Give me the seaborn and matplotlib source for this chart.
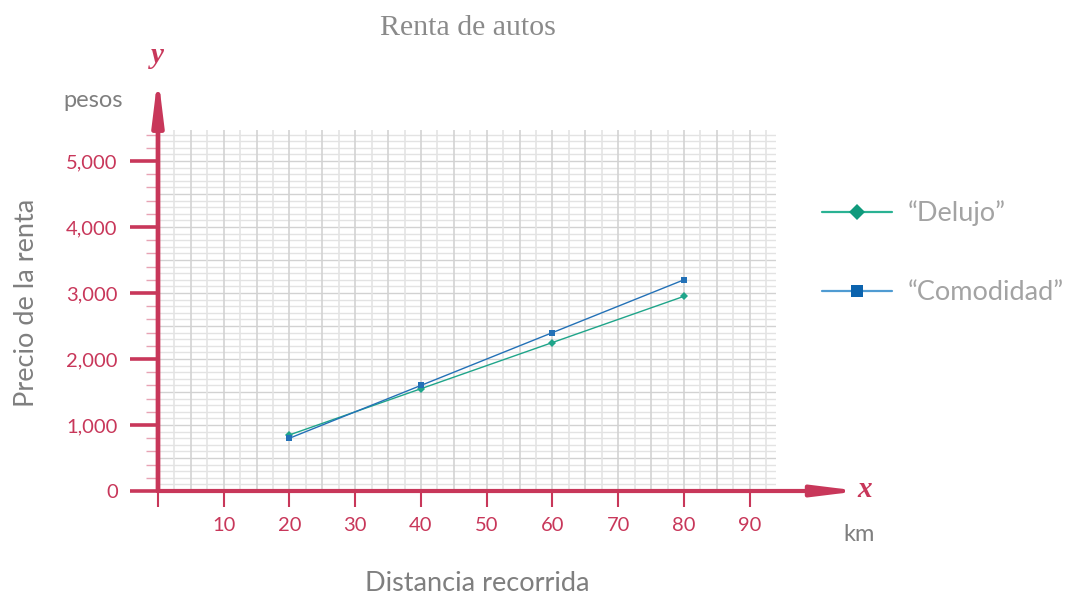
import numpy as np
import pandas as pd
import matplotlib
matplotlib.use("Agg")
import matplotlib.pyplot as plt
from matplotlib.ticker import MultipleLocator, FixedLocator, FixedFormatter
import seaborn as sns

# Rental price (pesos) versus distance travelled (km) for two car plans
km = [20, 40, 60, 80]
delujo = [850, 1550, 2250, 2950]
comodidad = [800, 1600, 2400, 3200]
series_names = ["\u201cDelujo\u201d", "\u201cComodidad\u201d"]

x_ticks = [0, 10, 20, 30, 40, 50, 60, 70, 80, 90]
x_tick_labels = ["", "10", "20", "30", "40", "50", "60", "70", "80", "90"]
y_ticks = [0, 1000, 2000, 3000, 4000, 5000]
y_tick_labels = ["0", "1,000", "2,000", "3,000", "4,000", "5,000"]

title = "Renta de autos"
x_title = "Distancia recorrida"
y_title = "Precio de la renta"
x_unit = "km"
y_unit = "pesos"

df = pd.DataFrame({
    "km": km * 2,
    "precio": delujo + comodidad,
    "plan": [series_names[0]] * len(km) + [series_names[1]] * len(km),
})

sns.set_theme(style="white")
plt.rcParams["font.family"] = ["Lato", "DejaVu Sans"]

CRIMSON = "#C8375A"
GREY = "#7F7F7F"
line_colors = {series_names[0]: "#1FA58A", series_names[1]: "#2371B7"}
marker_colors = {series_names[0]: "#0F9A7C", series_names[1]: "#0B63AE"}
legend_line_colors = {series_names[0]: "#2AB293", series_names[1]: "#4F9BD2"}

W, H = 1071, 595
fig = plt.figure(figsize=(W / 100, H / 100), dpi=100)
fig.patch.set_facecolor("white")
ax = fig.add_axes([158 / W, 1 - 491 / H, 618 / W, 361 / H])
ax.set_facecolor("white")

x_max, y_max = 94.0, 5470.0
ax.set_xlim(0, x_max)
ax.set_ylim(0, y_max)

# Graph-paper grid
for gx in np.arange(2.5, x_max, 2.5):
    strong = abs(gx / 5 - round(gx / 5)) < 1e-9
    ax.vlines(gx, 0, y_max, color="#D3D3D3" if strong else "#E4E4E4",
              lw=1.2, zorder=0.5)
for gy in np.arange(100, y_max, 100):
    strong = abs(gy / 500 - round(gy / 500)) < 1e-9
    ax.hlines(gy, 0, x_max, color="#D2D2D2" if strong else "#E3E3E3",
              lw=1.0, zorder=0.4)

sns.lineplot(
    data=df, x="km", y="precio", hue="plan", style="plan",
    hue_order=series_names, style_order=series_names,
    palette=line_colors, markers={series_names[0]: "D", series_names[1]: "s"},
    dashes=False, linewidth=1.0, markersize=4.5, markeredgewidth=0,
    ax=ax, zorder=3,
)
for line in ax.lines:
    lab = line.get_label()
    if lab in marker_colors:
        line.set_markerfacecolor(marker_colors[lab])

# Axes: arrows instead of spines
for s in ax.spines.values():
    s.set_visible(False)
arrow_style = "-|>,head_length=2.6,head_width=0.32"
ax.annotate("", xy=(1.136, 0), xytext=(0, 0), xycoords="axes fraction",
            arrowprops=dict(arrowstyle=arrow_style, color=CRIMSON, lw=3,
                            shrinkA=0, shrinkB=0, mutation_scale=10),
            annotation_clip=False, zorder=5)
ax.annotate("", xy=(0, 1.152), xytext=(0, 0), xycoords="axes fraction",
            arrowprops=dict(arrowstyle=arrow_style, color=CRIMSON, lw=3.4,
                            shrinkA=0, shrinkB=0, mutation_scale=10),
            annotation_clip=False, zorder=5)

# Ticks
ax.xaxis.set_major_locator(FixedLocator(x_ticks))
ax.xaxis.set_major_formatter(FixedFormatter(x_tick_labels))
ax.yaxis.set_major_locator(FixedLocator(y_ticks))
ax.yaxis.set_major_formatter(FixedFormatter(y_tick_labels))
ax.yaxis.set_minor_locator(MultipleLocator(200))
ax.tick_params(axis="x", which="major", direction="out", length=11.5, width=1.5,
               color=CRIMSON, labelcolor=CRIMSON, labelsize=14.5, pad=7,
               bottom=True)
ax.tick_params(axis="y", which="major", direction="out", length=20, width=2.6,
               color=CRIMSON, labelcolor=CRIMSON, labelsize=14.5, pad=9,
               left=True)
ax.tick_params(axis="y", which="minor", direction="out", length=8.5, width=1.0,
               color="#E7A3B4", left=True)
ax.set_xlabel("")
ax.set_ylabel("")

# Legend
leg = ax.legend(
    title=None, loc="center left",
    bbox_to_anchor=(822 / W, 1 - 253 / H), bbox_transform=fig.transFigure,
    frameon=False, fontsize=19.5, labelcolor="#A3A3A3",
    handlelength=2.6, handletextpad=0.55, labelspacing=2.0,
    borderpad=0, borderaxespad=0,
)
for h, t in zip(leg.legend_handles, leg.get_texts()):
    name = t.get_text()
    if name in legend_line_colors:
        h.set_color(legend_line_colors[name])
        h.set_markerfacecolor(marker_colors[name])
        h.set_markeredgewidth(0)
        h.set_markersize(8)
        h.set_linewidth(1.6)

# Texts around the plot
fig.text(468 / W, 1 - 35 / H, title, ha="center", va="baseline",
         fontsize=21.5, color="#8A8A8A", family=["Liberation Serif", "DejaVu Serif"])
fig.text(157 / W, 1 - 63 / H, "y", ha="center", va="baseline", fontsize=21,
         color=CRIMSON, family=["Liberation Serif", "DejaVu Serif"],
         style="italic", weight="bold")
fig.text(865 / W, 1 - 497 / H, "x", ha="center", va="baseline", fontsize=21,
         color=CRIMSON, family=["Liberation Serif", "DejaVu Serif"],
         style="italic", weight="bold")
fig.text(63 / W, 1 - 107 / H, y_unit, ha="left", va="baseline", fontsize=17,
         color=GREY)
fig.text(843 / W, 1 - 541 / H, x_unit, ha="left", va="baseline", fontsize=17,
         color=GREY)
fig.text(27 / W, 1 - 303 / H, y_title, ha="center", va="center", rotation=90,
         fontsize=19.5, color=GREY)
fig.text(477 / W, 1 - 591 / H, x_title, ha="center", va="baseline",
         fontsize=19.5, color=GREY)

fig.savefig("out.png", dpi=100, facecolor="white")
